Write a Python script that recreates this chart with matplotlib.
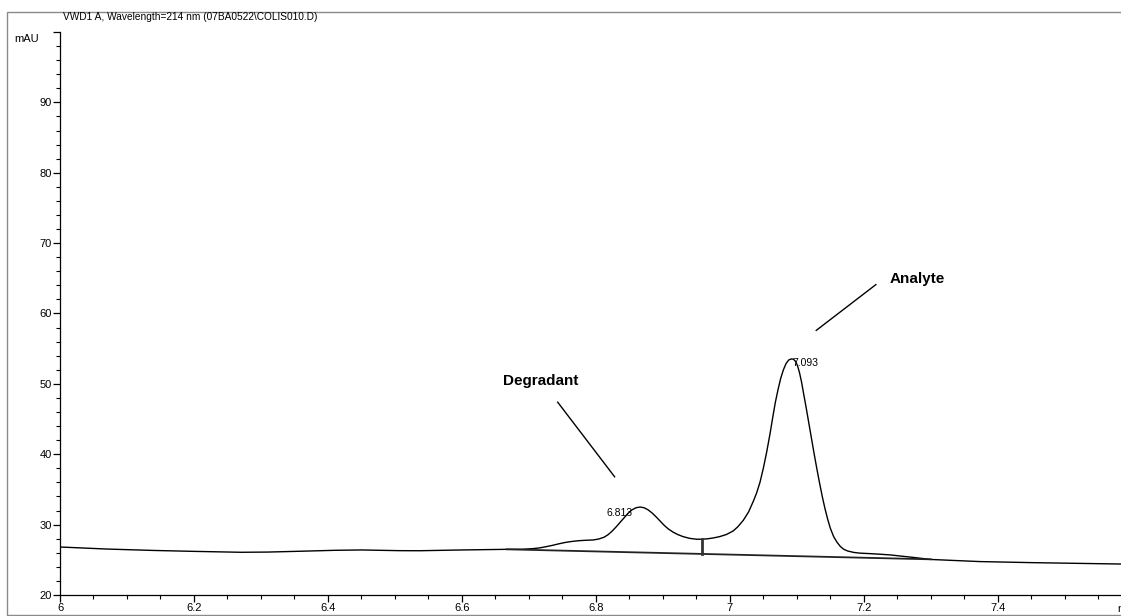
import matplotlib
matplotlib.use("Agg")
import matplotlib.pyplot as plt
from matplotlib.patches import Rectangle
from matplotlib.ticker import MultipleLocator

FONT = ["Liberation Sans Narrow", "Liberation Sans", "DejaVu Sans"]
plt.rcParams["font.family"] = FONT

# retention time (min) and detector signal (mAU)
time_min = [6.000, 6.070, 6.140, 6.200, 6.270, 6.310, 6.360, 6.410, 6.450, 6.507,
            6.537, 6.600, 6.667, 6.690, 6.705, 6.715, 6.725, 6.735, 6.745, 6.755,
            6.765, 6.775, 6.786, 6.796, 6.804, 6.812, 6.818, 6.824, 6.830, 6.836,
            6.842, 6.848, 6.854, 6.860, 6.866, 6.872, 6.878, 6.884, 6.890, 6.896,
            6.902, 6.908, 6.915, 6.922, 6.930, 6.940, 6.950, 6.958, 6.966, 6.975,
            6.985, 6.995, 7.005, 7.012, 7.020, 7.028, 7.035, 7.040, 7.045, 7.050,
            7.055, 7.060, 7.064, 7.068, 7.072, 7.076, 7.080, 7.084, 7.088, 7.092,
            7.095, 7.098, 7.101, 7.104, 7.107, 7.110, 7.114, 7.118, 7.122, 7.126,
            7.130, 7.134, 7.138, 7.142, 7.146, 7.150, 7.155, 7.160, 7.165, 7.170,
            7.176, 7.185, 7.194, 7.215, 7.239, 7.273, 7.300, 7.373, 7.450, 7.584]
signal_mau = [26.82, 26.53, 26.33, 26.20, 26.07, 26.10, 26.22, 26.35, 26.40, 26.30,
              26.29, 26.40, 26.49, 26.50, 26.58, 26.68, 26.85, 27.05, 27.28, 27.48,
              27.62, 27.72, 27.78, 27.82, 27.95, 28.20, 28.55, 29.05, 29.65, 30.30,
              30.95, 31.60, 32.10, 32.40, 32.50, 32.40, 32.10, 31.65, 31.10, 30.50,
              29.90, 29.40, 28.95, 28.60, 28.30, 28.05, 27.93, 27.92, 27.98, 28.10,
              28.30, 28.60, 29.10, 29.70, 30.60, 31.80, 33.30, 34.50, 36.00, 38.00,
              40.30, 42.90, 45.20, 47.40, 49.20, 50.80, 52.00, 52.90, 53.40, 53.55,
              53.50, 53.20, 52.60, 51.60, 50.30, 48.70, 46.60, 44.40, 42.20, 40.00,
              37.90, 35.90, 34.00, 32.30, 30.80, 29.50, 28.30, 27.50, 26.90, 26.50,
              26.25, 26.05, 25.95, 25.85, 25.70, 25.35, 25.05, 24.75, 24.60, 24.40]

# integration baseline and peak split
baseline_t = [6.667, 7.300]
baseline_y = [26.49, 25.07]
drop_t = 6.958
drop_y = [25.83, 27.92]

# retention-time labels
peak_rt = [6.813, 7.093]
peak_label_pos = [(6.816, 31.65), (7.094, 52.95)]

fig = plt.figure(figsize=(11.21, 6.16), dpi=100)
ax = fig.add_axes([60 / 1121, 21 / 616, 1 - 60 / 1121, 563 / 616])

# outer frame
fig.patches.append(Rectangle((7 / 1121, 1 / 616), 1.0, 603 / 616, transform=fig.transFigure,
                             fill=False, edgecolor="#8a8a8a", lw=1.0))

ax.plot(time_min, signal_mau, color="black", lw=1.0)
ax.plot(baseline_t, baseline_y, color="#222222", lw=1.3)
ax.plot([drop_t, drop_t], drop_y, color="#333333", lw=2.0)

for rt, (x, y) in zip(peak_rt, peak_label_pos):
    ax.text(x, y, f"{rt:.3f}", fontsize=7.5, ha="left", va="center")

# compound annotations
ax.text(6.661, 50.4, "Degradant", fontsize=11, fontweight="bold", ha="left", va="center")
ax.plot([6.743, 6.828], [47.4, 36.8], color="black", lw=1.0)
ax.text(7.239, 64.9, "Analyte", fontsize=11, fontweight="bold", ha="left", va="center")
ax.plot([7.218, 7.129], [64.1, 57.6], color="black", lw=1.0)

ax.set_xlim(6, 7.584)
ax.set_ylim(20, 100)
ax.xaxis.set_minor_locator(MultipleLocator(0.05))
ax.yaxis.set_minor_locator(MultipleLocator(2))
ax.set_xticks([6, 6.2, 6.4, 6.6, 6.8, 7.0, 7.2, 7.4])
ax.set_xticklabels(["6", "6.2", "6.4", "6.6", "6.8", "7", "7.2", "7.4"])
ax.set_yticks([20, 30, 40, 50, 60, 70, 80, 90, 100])
ax.set_yticklabels(["20", "30", "40", "50", "60", "70", "80", "90", ""])
ax.tick_params(axis="both", which="major", direction="out", length=5, width=0.9,
               labelsize=8, pad=1)
ax.tick_params(axis="both", which="minor", direction="out", length=3, width=0.8)

for side in ("top", "right"):
    ax.spines[side].set_visible(False)
ax.spines["left"].set_linewidth(0.9)
ax.spines["bottom"].set_linewidth(0.9)
ax.patch.set_alpha(0)

ax.text(-0.02, 99.0, "mAU", transform=ax.get_yaxis_transform(), fontsize=8,
        ha="right", va="center")
fig.text(1117 / 1121, 1 - 609 / 616, "min", fontsize=8, ha="left", va="center")
fig.text(63 / 1121, 1 - 17 / 616, "VWD1 A, Wavelength=214 nm (07BA0522\\COLIS010.D)",
         fontsize=7.3, ha="left", va="center")

fig.savefig("out.png", dpi=100)
